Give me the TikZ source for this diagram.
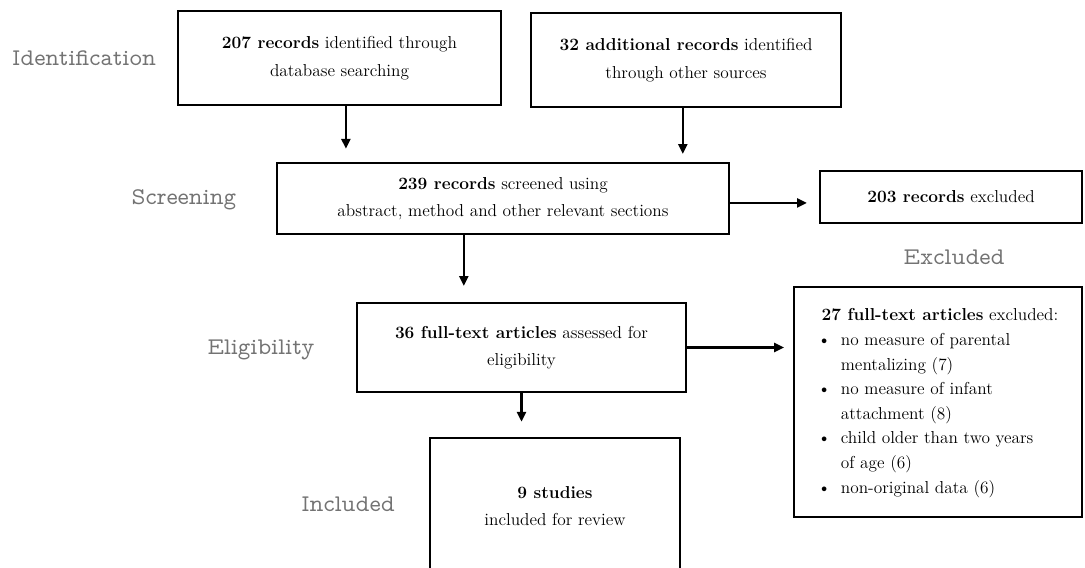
\documentclass[tikz,border=0pt]{standalone}
\usepackage{fontspec}
\newfontfamily\stagefont{lmmonoprop10-regular.otf}
\usetikzlibrary{arrows.meta,positioning}

\begin{document}
\begin{tikzpicture}[x=0.025cm, y=-0.025cm,
    box/.style={draw, line width=1.6pt, align=center, inner sep=0pt,
        font=\fontsize{12.3}{19.5}\selectfont},
    stage/.style={text=black!55, font=\stagefont\fontsize{17}{19}\selectfont},
    flow/.style={-{Triangle[length=7pt,width=6.5pt]}, line width=1.5pt}]
    \clip (0,0) rectangle (1085,567);

    % Stage names
    \node[stage] (sid) at (84,58) {Identification};
    \node[stage] (sscr) at (184,200) {Screening};
    \node[stage] (selg) at (261,350) {Eligibility};
    \node[stage] (sinc) at (348,504) {Included};
    \node[stage] (sexc) at (954,257) {Excluded};

    % Identification
    \node[box, minimum width=8.075cm, minimum height=2.35cm] (db) at (339.5,58)
        {\textbf{207 records} identified through\\database searching};
    \node[box, minimum width=7.75cm, minimum height=2.35cm] (other) at (686,60)
        {\textbf{32 additional records} identified\\through other sources};

    % Screening
    \node[box, minimum width=11.3cm, minimum height=1.775cm] (screen) at (503,198.5)
        {\textbf{239 records} screened using\\abstract, method and other relevant sections};
    \node[box, minimum width=6.55cm, minimum height=1.3cm] (drop) at (951,197)
        {\textbf{203 records} excluded};

    % Eligibility
    \node[box, minimum width=8.225cm, minimum height=2.225cm] (full) at (521.5,347.5)
        {\textbf{36 full-text articles} assessed for\\eligibility};
    \node[box, minimum width=7.2cm, minimum height=5.75cm, font=\fontsize{12.3}{17.5}\selectfont] (why) at (938,402)
        {\begin{tabular}{@{}l@{\hspace{0.25cm}}l@{}}
            \multicolumn{2}{@{\hspace{0.1cm}}l@{}}{\textbf{27 full-text articles} excluded:}\\
            \textbullet & no measure of parental\\
                        & mentalizing (7)\\
            \textbullet & no measure of infant\\
                        & attachment (8)\\
            \textbullet & child older than two years\\
                        & of age (6)\\
            \textbullet & non-original data (6)
        \end{tabular}};

    % Included
    \node[box, minimum width=6.25cm, minimum height=3.4cm] (incl) at (555,506)
        {\textbf{9 studies}\\included for review};

    % Arrows
    \draw[flow, shorten >=0.33cm] ([xshift=0.16cm]db.south) -- ([xshift=0.16cm]db.south |- screen.north);
    \draw[flow, shorten >=0.2cm] ([xshift=-0.08cm]other.south) -- ([xshift=-0.08cm]other.south |- screen.north);
    \draw[flow, shorten >=0.3cm] ([yshift=-0.11cm]screen.east) -- ([yshift=-0.11cm]screen.east -| drop.west);
    \draw[flow, shorten >=0.4cm] ([xshift=-0.98cm]screen.south) -- ([xshift=-0.98cm]screen.south |- full.north);
    \draw[flow, shorten >=0.22cm] (full.east) -- (full.east -| why.west);
    \draw[flow, shorten >=0.38cm] (full.south) -- (full.south |- incl.north);
\end{tikzpicture}
\end{document}
